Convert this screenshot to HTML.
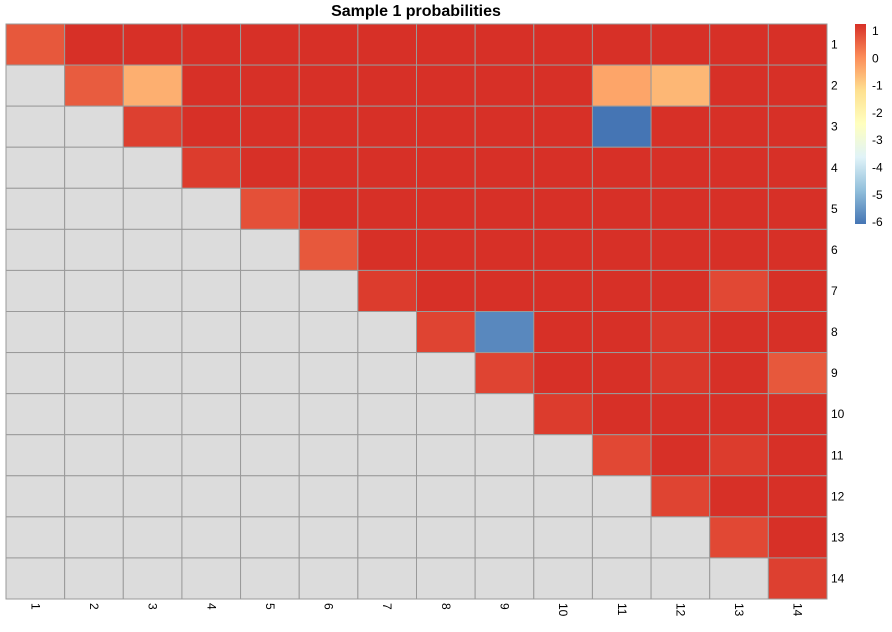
<!DOCTYPE html>
<html><head><meta charset="utf-8"><style>
body{margin:0;background:#fff;font-family:"Liberation Sans",sans-serif;}
</style></head><body>
<svg id="c" width="892" height="627" xmlns="http://www.w3.org/2000/svg">
<text x="416" y="16" text-anchor="middle" font-size="16" font-weight="bold">Sample 1 probabilities</text>
<defs><linearGradient id="lg" x1="0" y1="1" x2="0" y2="0">
<stop offset="0" stop-color="#4575B4"/><stop offset="0.1667" stop-color="#91BFDB"/><stop offset="0.3333" stop-color="#E0F3F8"/><stop offset="0.5" stop-color="#FFFFBF"/><stop offset="0.6667" stop-color="#FEE090"/><stop offset="0.8333" stop-color="#FC8D59"/><stop offset="1" stop-color="#D73027"/>
</linearGradient></defs>
<g id="cells"></g>
<rect x="855" y="24" width="11" height="200" fill="url(#lg)"/>
<g id="leg"></g>
</svg>
<script>
const labels=[1,2,3,4,5,6,7,8,9,10,11,12,13,14];
const values=[
[0.5,1,1,1,1,1,1,1,1,1,1,1,1,1],
[null,0.45,-0.65,1,1,1,1,1,1,1,-0.5,-0.75,1,1],
[null,null,0.8,1,1,1,1,1,1,1,-6,1,1,1],
[null,null,null,0.85,1,1,1,1,1,1,1,1,1,1],
[null,null,null,null,0.6,1,1,1,1,1,1,1,1,1],
[null,null,null,null,null,0.5,1,1,1,1,1,1,1,1],
[null,null,null,null,null,null,0.85,1,1,1,1,1,0.7,1],
[null,null,null,null,null,null,null,0.75,-5.7,1,1,0.9,1,1],
[null,null,null,null,null,null,null,null,0.75,1,1,0.9,1,0.5],
[null,null,null,null,null,null,null,null,null,0.85,1,1,1,1],
[null,null,null,null,null,null,null,null,null,null,0.7,1,0.85,1],
[null,null,null,null,null,null,null,null,null,null,null,0.75,1,1],
[null,null,null,null,null,null,null,null,null,null,null,null,0.7,1],
[null,null,null,null,null,null,null,null,null,null,null,null,null,0.8]];
const legendTicks=[1,0,-1,-2,-3,-4,-5,-6];
const vmin=-6,vmax=1;
const stops=["#4575B4","#91BFDB","#E0F3F8","#FFFFBF","#FEE090","#FC8D59","#D73027"];
function hex(h){return [1,3,5].map(i=>parseInt(h.substr(i,2),16));}
function color(v){let t=(v-vmin)/(vmax-vmin)*6;t=Math.max(0,Math.min(6,t));let i=Math.min(5,Math.floor(t)),f=t-i;
const a=hex(stops[i]),b=hex(stops[i+1]);return "rgb("+a.map((x,k)=>Math.round(x+(b[k]-x)*f)).join(",")+")";}
const X0=6,Y0=24,W=821,H=575,n=labels.length,cw=W/n,ch=H/n;
const xs=i=>X0+i*cw, ys=i=>Y0+i*ch;
const NS="http://www.w3.org/2000/svg",g=document.getElementById("cells"),svg=document.getElementById("c");
for(let r=0;r<n;r++)for(let c=0;c<n;c++){const v=values[r][c];const e=document.createElementNS(NS,"rect");
e.setAttribute("x",xs(c));e.setAttribute("y",ys(r));e.setAttribute("width",cw);e.setAttribute("height",ch);
e.setAttribute("fill",v==null?"#DCDCDC":color(v));e.setAttribute("stroke","#9a9a9a");e.setAttribute("stroke-width","1");


g.appendChild(e);}
for(let i=0;i<n;i++){let t=document.createElementNS(NS,"text");t.setAttribute("x",831);t.setAttribute("y",ys(i)+ch/2+4);t.setAttribute("font-size","12");t.textContent=labels[i];


svg.appendChild(t);
let u=document.createElementNS(NS,"text");const cx=xs(i)+cw/2-4,cy=603;u.setAttribute("x",cx);u.setAttribute("y",cy);u.setAttribute("font-size","12");
u.setAttribute("transform","rotate(90 "+cx+" "+cy+")");u.textContent=labels[i];


svg.appendChild(u);}
const lg=document.getElementById("leg");
legendTicks.forEach(v=>{const y=31+(vmax-v)*27.3;let t=document.createElementNS(NS,"text");t.setAttribute("x",872);t.setAttribute("y",y+4);t.setAttribute("font-size","12");t.textContent=v;


lg.appendChild(t);});
</script>
</body></html>
